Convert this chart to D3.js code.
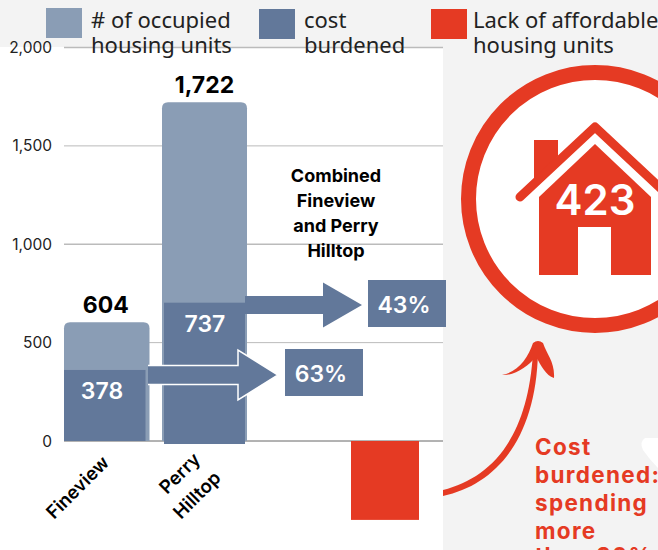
<!DOCTYPE html>
<html><head><meta charset="utf-8">
<script src="https://cdn.jsdelivr.net/npm/d3@7"></script>
<style>html,body{margin:0;padding:0;background:#f3f3f3}svg{display:block}</style></head>
<body><div id="c"></div>
<script>
const categories = ["Fineview", "Perry Hilltop"];
const occupiedUnits = [604, 1722];
const costBurdenedLabels = [378, 737];
const costBurdenedDrawn = [361, 703];
const lackDrawn = 401;
const lackLabel = 423;
const percentLabels = ["63%", "43%"];
const yTicks = [0, 500, 1000, 1500, 2000];
const legendItems = [["# of occupied", "housing units"], ["cost", "burdened"], ["Lack of affordable", "housing units"]];
const combinedNote = ["Combined", "Fineview", "and Perry", "Hilltop"];
const costNote = ["Cost", "burdened:", "spending", "more", "than 30%"];

const LIGHT = "#8a9db5", DARK = "#62789a", RED = "#e53a23";
const sans = "'Noto Sans','Open Sans',sans-serif", tick = "Inter,sans-serif", bold = "Inter,sans-serif";
const svg = d3.select("#c").append("svg").attr("width", 658).attr("height", 550);
const y = d3.scaleLinear().domain([0, 2000]).range([441, 47.5]);

svg.append("rect").attr("width", 658).attr("height", 550).attr("fill", "#f3f3f3");
svg.append("rect").attr("x", 0).attr("y", 47).attr("width", 443).attr("height", 503).attr("fill", "#fff");

// grid + axis
svg.selectAll("line.g").data(yTicks.slice(1)).join("line").attr("x1", 64).attr("x2", 443)
  .attr("y1", d => y(d)).attr("y2", d => y(d)).attr("stroke", "#bbb").attr("stroke-width", d => d === 1500 || d === 500 ? 1 : 1.6);
svg.append("line").attr("x1", 64).attr("x2", 443).attr("y1", y(0)).attr("y2", y(0)).attr("stroke", "#666").attr("stroke-width", 1);
svg.selectAll("text.t").data(yTicks).join("text").attr("x", 52).attr("y", d => y(d) + 5.5).attr("text-anchor", "end")
  .attr("font-family", tick).attr("font-size", 15.5).attr("fill", "#222").text(d => d3.format(",")(d));

// bars
const barX = [64, 162], barW = [85.5, 85], darkX = [64, 164], darkW = [81.5, 81];
const roundTop = (x, w, top, bot, r) => `M${x},${bot}V${top + r}Q${x},${top} ${x + r},${top}H${x + w - r}Q${x + w},${top} ${x + w},${top + r}V${bot}Z`;
categories.forEach((c, i) => {
  svg.append("path").attr("d", roundTop(barX[i], barW[i], y(occupiedUnits[i]), y(0), 6)).attr("fill", LIGHT);
  svg.append("rect").attr("x", darkX[i]).attr("y", y(costBurdenedDrawn[i])).attr("width", darkW[i])
    .attr("height", y(0) - y(costBurdenedDrawn[i]) + (i ? 3 : 0)).attr("fill", DARK);
  svg.append("text").attr("x", barX[i] + barW[i] / 2 + (i ? 0 : -1)).attr("y", y(occupiedUnits[i]) - 9).attr("text-anchor", "middle")
    .attr("font-family", bold).attr("font-weight", 700).attr("font-size", 23).attr("fill", "#000").text(d3.format(",")(occupiedUnits[i]));
});
svg.append("text").attr("x", 102).attr("y", 399).attr("text-anchor", "middle").attr("font-family", bold).attr("font-weight", 600).attr("font-size", 23).attr("fill", "#fff").text(costBurdenedLabels[0]);
svg.append("text").attr("x", 205).attr("y", 332).attr("text-anchor", "middle").attr("font-family", bold).attr("font-weight", 600).attr("font-size", 23).attr("fill", "#fff").text(costBurdenedLabels[1]);

// red bar
svg.append("rect").attr("x", 351).attr("y", y(0)).attr("width", 68).attr("height", y(0) - y(lackDrawn)).attr("fill", RED);

// arrows
const arrow = (x0, x1, x2, cy, hs, hh) => `M${x0},${cy - hs}H${x1}V${cy - hh}L${x2},${cy}L${x1},${cy + hh}V${cy + hs}H${x0}`;
svg.append("path").attr("d", arrow(148, 238, 278, 375, 9.5, 25)).attr("fill", DARK).attr("stroke", "#fff").attr("stroke-width", 1.5);
svg.append("path").attr("d", arrow(245, 323, 362, 305, 9, 22.5) + "Z").attr("fill", DARK);

// percent boxes
[[285, 349], [368, 280]].forEach((p, i) => {
  svg.append("rect").attr("x", p[0]).attr("y", p[1]).attr("width", 78).attr("height", 47).attr("fill", DARK);
  svg.append("text").attr("x", p[0] + 36).attr("y", p[1] + 33).attr("text-anchor", "middle").attr("font-family", bold).attr("font-weight", 600).attr("font-size", 23).attr("fill", "#fff").text(percentLabels[i]);
});

// category labels
svg.append("text").attr("transform", "translate(54,520) rotate(-45)").attr("font-family", bold).attr("font-weight", 600).attr("font-size", 18.5).attr("fill", "#000").text("Fineview");
svg.append("text").attr("transform", "translate(167,495) rotate(-45)").attr("font-family", bold).attr("font-weight", 600).attr("font-size", 18.5).attr("fill", "#000").text("Perry");
svg.append("text").attr("transform", "translate(181,520) rotate(-45)").attr("font-family", bold).attr("font-weight", 600).attr("font-size", 18.5).attr("fill", "#000").text("Hilltop");

// note
combinedNote.forEach((t, i) => svg.append("text").attr("x", 336).attr("y", 182 + i * 25).attr("text-anchor", "middle").attr("font-family", bold).attr("font-weight", 700).attr("font-size", 18).attr("fill", "#000").text(t));

// legend
[[46, 8, LIGHT, 91], [259, 9, DARK, 304], [431, 9, RED, 473]].forEach((l, i) => {
  svg.append("rect").attr("x", l[0]).attr("y", l[1]).attr("width", 36).attr("height", 30).attr("fill", l[2]);
  legendItems[i].forEach((t, j) => svg.append("text").attr("x", l[3]).attr("y", 28 + j * 25).attr("font-family", sans).attr("font-size", 22).attr("fill", "#222").text(t));
});

// circle with house
svg.append("circle").attr("cx", 595).attr("cy", 199).attr("r", 126.5).attr("fill", "#fff").attr("stroke", RED).attr("stroke-width", 15);
svg.append("path").attr("d", "M534,140H558V156L534,180Z").attr("fill", RED);
svg.append("path").attr("d", "M520,197L595,127L670,197").attr("fill", "none").attr("stroke", RED).attr("stroke-width", 9).attr("stroke-linecap", "round").attr("stroke-linejoin", "round");
svg.append("path").attr("d", "M595,144L651,197V275H539V197Z").attr("fill", RED);
svg.append("rect").attr("x", 578).attr("y", 227).attr("width", 33).attr("height", 48).attr("fill", "#fff");
svg.append("text").attr("x", 595).attr("y", 215).attr("text-anchor", "middle").attr("font-family", bold).attr("font-weight", 600).attr("font-size", 42).attr("fill", "#fff").text(lackLabel);

// white shape at right edge
svg.append("path").attr("d", "M645,438H658V468Q650,460 643,450Q639,442 645,438Z").attr("fill", "#fff");

// curved arrow
svg.append("path").attr("d", "M443,490C490,478 528,440 533,352L538,352C536,440 495,485 443,496Z").attr("fill", RED);
svg.append("path").attr("d", "M502,375C518,372 528,358 533,343Q538,339 543,343C547,355 555,362 554,378C546,376 541,365 536,357C528,366 515,376 502,375Z").attr("fill", RED);

// red note
costNote.forEach((t, i) => svg.append("text").attr("x", 535).attr("y", 455 + i * 28 - (i === 4 ? 3 : 0)).attr("font-family", bold).attr("font-weight", 700).attr("font-size", 22.5).attr("letter-spacing", 1.3).attr("fill", RED).text(t));
</script></body></html>
